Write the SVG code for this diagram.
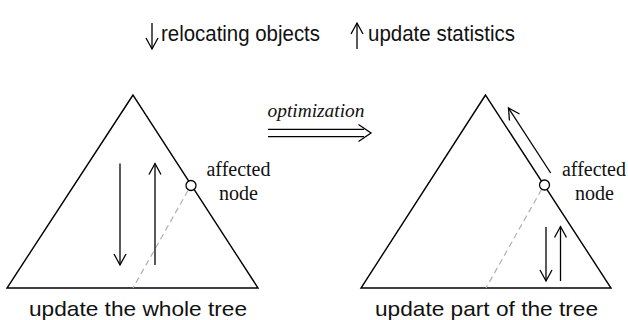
<svg xmlns="http://www.w3.org/2000/svg" width="628" height="320" viewBox="0 0 628 320">
<defs>
<marker id="ah" markerUnits="userSpaceOnUse" markerWidth="16" markerHeight="16" viewBox="-13 -8 16 16" refX="0" refY="0" orient="auto">
<path d="M-11,-6 L0,0 L-11,6" fill="none" stroke="#000" stroke-width="1.3"/>
</marker>
</defs>
<style>
.ln{stroke:#000;stroke-width:1.3;fill:none}
.arr{stroke:#000;stroke-width:1.3;fill:none;marker-end:url(#ah)}
.tri{stroke:#000;stroke-width:1.4;fill:#fff;stroke-linejoin:miter}
.dash{stroke:#b0b0b0;stroke-width:1.2;stroke-dasharray:6 4;fill:none}
.node{stroke:#000;stroke-width:1.3;fill:#fff}
.sans{font-family:"Liberation Sans",Arial,sans-serif;fill:#111}
.serif{font-family:"Liberation Serif","Times New Roman",serif;fill:#111}
</style>
<rect width="628" height="320" fill="#fff"/>

<g id="legend">
<line class="arr" x1="152" y1="23" x2="152" y2="49"/>
<text class="sans" x="161" y="41" font-size="22" textLength="159" lengthAdjust="spacingAndGlyphs">relocating objects</text>
<line class="arr" x1="357" y1="49" x2="357" y2="23"/>
<text class="sans" x="368" y="41" font-size="22" textLength="147" lengthAdjust="spacingAndGlyphs">update statistics</text>
</g>

<g id="tree-left">
<polygon class="tri" points="133,95 7,288 258,288"/>
<text class="sans" x="29" y="315.5" font-size="21" textLength="218" lengthAdjust="spacingAndGlyphs">update the whole tree</text>
</g>
<g id="tree-right">
<polygon class="tri" points="485.5,95 361,288 611,288"/>
<text class="sans" x="375" y="315.5" font-size="21" textLength="223" lengthAdjust="spacingAndGlyphs">update part of the tree</text>
</g>

<g id="connectors">
<line class="dash" x1="188" y1="190.5" x2="133" y2="288"/>
<line class="dash" x1="541.5" y1="189.5" x2="486" y2="288"/>
<line class="arr" x1="120" y1="163.5" x2="120" y2="265"/>
<line class="arr" x1="155" y1="265" x2="155" y2="163.5"/>
<line class="arr" x1="550.7" y1="173" x2="508.5" y2="108"/>
<line class="arr" x1="546" y1="227" x2="546" y2="281"/>
<line class="arr" x1="560.5" y1="281" x2="560.5" y2="226.5"/>
</g>

<g id="affected-left">
<circle class="node" cx="191" cy="185.5" r="5"/>
<text class="serif" x="238.5" y="176" font-size="20" text-anchor="middle" textLength="64" lengthAdjust="spacingAndGlyphs">affected</text>
<text class="serif" x="238.5" y="200" font-size="20" text-anchor="middle" textLength="39" lengthAdjust="spacingAndGlyphs">node</text>
</g>
<g id="affected-right">
<circle class="node" cx="544.5" cy="185" r="5"/>
<text class="serif" x="594" y="176" font-size="20" text-anchor="middle" textLength="64" lengthAdjust="spacingAndGlyphs">affected</text>
<text class="serif" x="594.5" y="200" font-size="20" text-anchor="middle" textLength="39" lengthAdjust="spacingAndGlyphs">node</text>
</g>

<g id="optimization">
<text class="serif" x="267.5" y="117" font-size="19" font-style="italic" textLength="97" lengthAdjust="spacingAndGlyphs">optimization</text>
<line class="ln" x1="268" y1="129.3" x2="364" y2="129.3"/>
<line class="ln" x1="268" y1="136.7" x2="364" y2="136.7"/>
<path class="ln" d="M358.5,124.5 L371,133 L358.5,141.5"/>
</g>
</svg>
